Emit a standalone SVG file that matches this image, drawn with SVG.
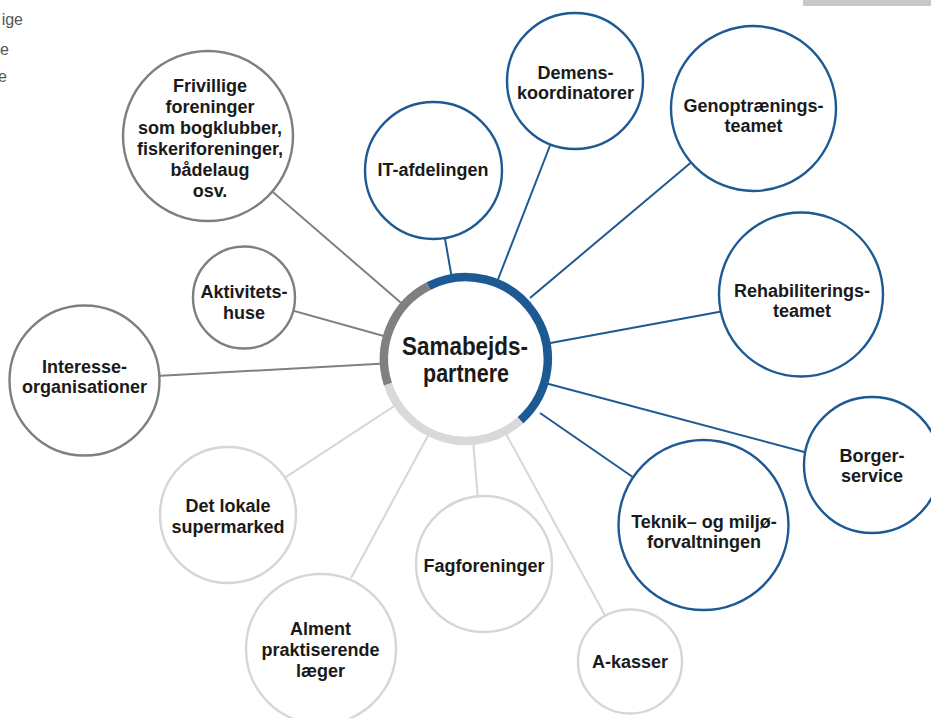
<svg xmlns="http://www.w3.org/2000/svg" width="931" height="718" viewBox="0 0 931 718">
<style>
  .lbl{font-family:"Liberation Sans",Arial,sans-serif;font-weight:bold;font-size:18px;fill:#1a1a1a;text-anchor:middle}
  .hub{font-family:"Liberation Sans",Arial,sans-serif;font-weight:bold;font-size:25px;fill:#1a1a1a;text-anchor:middle}
  .frag{font-family:"Liberation Sans",Arial,sans-serif;font-size:16px;fill:#555555;text-anchor:end}
  .nb{fill:#ffffff;stroke:#1d5a93;stroke-width:2.4}
  .nd{fill:#ffffff;stroke:#7f7f7f;stroke-width:2.4}
  .nl{fill:#ffffff;stroke:#d6d6d6;stroke-width:2.4}
  .cb{stroke:#1d5a93;stroke-width:2;fill:none}
  .cd{stroke:#808080;stroke-width:2;fill:none}
  .cl{stroke:#d6d6d6;stroke-width:2;fill:none}
</style>

<rect x="803" y="-2" width="130" height="8" fill="#c8c8c8"/>
<text class="frag" x="23" y="25">ige</text>
<text class="frag" x="9" y="55">e</text>
<text class="frag" x="7" y="82">e</text>

<g id="connectors">
  <line class="cd" x1="208" y1="136" x2="466" y2="359"/>
  <line class="cd" x1="244" y1="297" x2="466" y2="359"/>
  <line class="cd" x1="84" y1="380" x2="466" y2="359"/>
  <line class="cl" x1="228" y1="515" x2="466" y2="359"/>
  <line class="cl" x1="351" y1="578" x2="430" y2="432"/>
  <line class="cl" x1="478" y1="500" x2="473" y2="440"/>
  <line class="cl" x1="607" y1="619" x2="505" y2="432"/>
  <line class="cb" x1="640" y1="482" x2="540" y2="413"/>
  <line class="cb" x1="808" y1="453" x2="545" y2="383"/>
  <line class="cb" x1="724" y1="311" x2="545" y2="344"/>
  <line class="cb" x1="694" y1="160" x2="530" y2="298"/>
  <line class="cb" x1="551" y1="143" x2="497" y2="282"/>
  <line class="cb" x1="433" y1="170" x2="466" y2="359"/>
</g>

<g id="hub">
  <circle cx="466" cy="359" r="82" fill="#ffffff"/>
  <path d="M428.5 286.1 A82 82 0 0 1 520.4 420.3" stroke="#1d5a93" stroke-width="8.5" fill="none"/>
  <path d="M520.4 420.3 A82 82 0 0 1 387.9 384.1" stroke="#d9d9d9" stroke-width="8.5" fill="none"/>
  <path d="M387.9 384.1 A82 82 0 0 1 428.5 286.1" stroke="#808080" stroke-width="8.5" fill="none"/>
  <text class="hub" x="465" y="355" textLength="126" lengthAdjust="spacingAndGlyphs">Samabejds-</text>
  <text class="hub" x="466" y="382" textLength="86" lengthAdjust="spacingAndGlyphs">partnere</text>
</g>

<g id="frivillige">
  <circle class="nd" cx="208" cy="136" r="85"/>
  <text class="lbl" x="210" y="92">Frivillige</text>
  <text class="lbl" x="210" y="113">foreninger</text>
  <text class="lbl" x="210" y="134">som bogklubber,</text>
  <text class="lbl" x="210" y="155">fiskeriforeninger,</text>
  <text class="lbl" x="210" y="176">bådelaug</text>
  <text class="lbl" x="210" y="197">osv.</text>
</g>

<g id="aktivitetshuse">
  <circle class="nd" cx="244" cy="297.5" r="51"/>
  <text class="lbl" x="244" y="298">Aktivitets-</text>
  <text class="lbl" x="244" y="319">huse</text>
</g>

<g id="interesseorganisationer">
  <circle class="nd" cx="84.5" cy="380.5" r="75"/>
  <text class="lbl" x="84.5" y="373">Interesse-</text>
  <text class="lbl" x="84.5" y="393">organisationer</text>
</g>

<g id="supermarked">
  <circle class="nl" cx="228" cy="515" r="68"/>
  <text class="lbl" x="228" y="512">Det lokale</text>
  <text class="lbl" x="228" y="533">supermarked</text>
</g>

<g id="laeger">
  <circle class="nl" cx="321" cy="649" r="75"/>
  <text class="lbl" x="320.5" y="635">Alment</text>
  <text class="lbl" x="320.5" y="656">praktiserende</text>
  <text class="lbl" x="320.5" y="677">læger</text>
</g>

<g id="fagforeninger">
  <circle class="nl" cx="484" cy="564" r="68"/>
  <text class="lbl" x="484" y="572">Fagforeninger</text>
</g>

<g id="akasser">
  <circle class="nl" cx="630" cy="661.5" r="52"/>
  <text class="lbl" x="630" y="668">A-kasser</text>
</g>

<g id="teknik">
  <circle class="nb" cx="703.5" cy="525" r="85"/>
  <text class="lbl" x="704" y="528">Teknik– og miljø-</text>
  <text class="lbl" x="704" y="548">forvaltningen</text>
</g>

<g id="borgerservice">
  <circle class="nb" cx="872" cy="465" r="68"/>
  <text class="lbl" x="872" y="462">Borger-</text>
  <text class="lbl" x="872" y="482">service</text>
</g>

<g id="rehabilitering">
  <circle class="nb" cx="801" cy="294.5" r="82"/>
  <text class="lbl" x="802" y="297">Rehabiliterings-</text>
  <text class="lbl" x="802" y="317">teamet</text>
</g>

<g id="genoptraening">
  <circle class="nb" cx="753.5" cy="108.5" r="82.5"/>
  <text class="lbl" x="753.5" y="112">Genoptrænings-</text>
  <text class="lbl" x="753.5" y="132">teamet</text>
</g>

<g id="demens">
  <circle class="nb" cx="575" cy="81" r="68"/>
  <text class="lbl" x="575.5" y="79">Demens-</text>
  <text class="lbl" x="575.5" y="99">koordinatorer</text>
</g>

<g id="it">
  <circle class="nb" cx="433.5" cy="170.5" r="68.5"/>
  <text class="lbl" x="433" y="176">IT-afdelingen</text>
</g>
</svg>
